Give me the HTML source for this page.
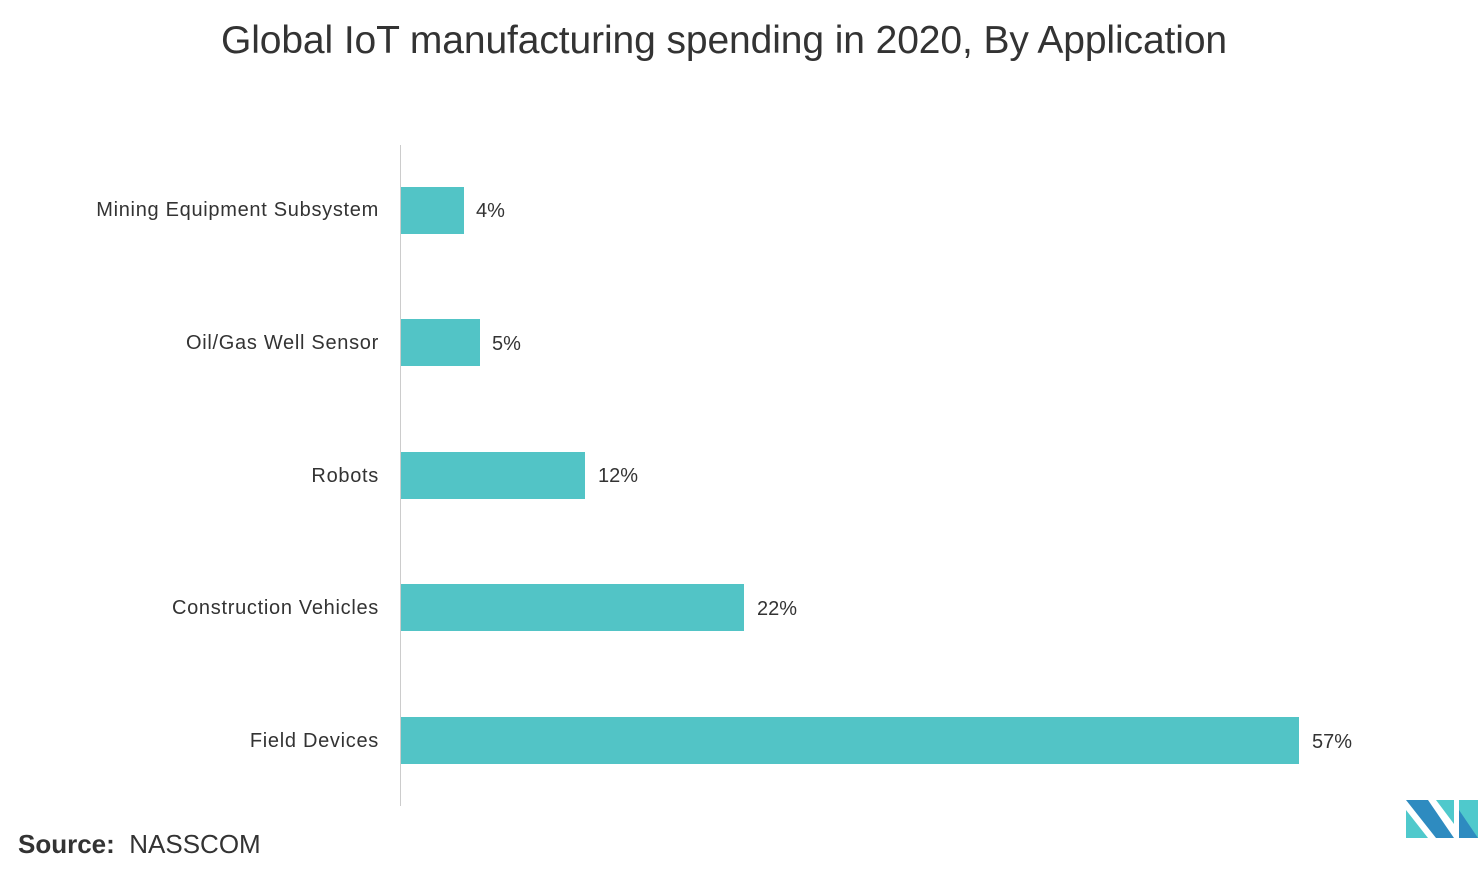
<!DOCTYPE html>
<html><head><style>
body{margin:0;width:1480px;height:880px;background:#fff;font-family:"Liberation Sans",sans-serif;position:relative;overflow:hidden;color:#222}
.t{position:absolute;left:0;width:1448px;text-align:center;top:19px;font-size:39px;color:#333;letter-spacing:-0.1px}
.l{position:absolute;right:1101px;font-size:20px;color:#333;white-space:nowrap;letter-spacing:0.7px}
.b{position:absolute;left:401px;height:47px;background:#52c4c6}
.v{position:absolute;font-size:20px;color:#333}
</style></head><body>
<div class="t">Global IoT manufacturing spending in 2020, By Application</div>
<div style="position:absolute;left:400px;top:145px;width:1px;height:661px;background:#ccc"></div>
<div class="l" style="top:199px">Mining Equipment Subsystem</div>
<div class="b" style="top:187px;width:63px"></div><div class="v" style="left:476px;top:200px">4%</div>
<div class="l" style="top:332px">Oil/Gas Well Sensor</div>
<div class="b" style="top:319px;width:79px"></div><div class="v" style="left:492px;top:333px">5%</div>
<div class="l" style="top:465px">Robots</div>
<div class="b" style="top:452px;width:184px"></div><div class="v" style="left:598px;top:465px">12%</div>
<div class="l" style="top:597px">Construction Vehicles</div>
<div class="b" style="top:584px;width:343px"></div><div class="v" style="left:757px;top:598px">22%</div>
<div class="l" style="top:730px">Field Devices</div>
<div class="b" style="top:717px;width:898px"></div><div class="v" style="left:1312px;top:731px">57%</div>
<div style="position:absolute;left:18px;top:829px;font-size:26px;color:#333"><b>Source:</b>&nbsp; NASSCOM</div>
<svg style="position:absolute;left:1406px;top:800px" width="74" height="40" viewBox="0 0 74 40">
<polygon points="0,0 22,0 48,38 48,38 30,38 0,0" fill="#2e8bc0"/>
<polygon points="0,10 22,38 0,38" fill="#4fc9cc"/>
<polygon points="30,0 48,0 48,24" fill="#4fc9cc"/>
<polygon points="53,0 72,0 72,38 53,38" fill="#4fc9cc"/>
<polygon points="53,10 72,38 53,38" fill="#2e8bc0"/>
</svg>
</body></html>
